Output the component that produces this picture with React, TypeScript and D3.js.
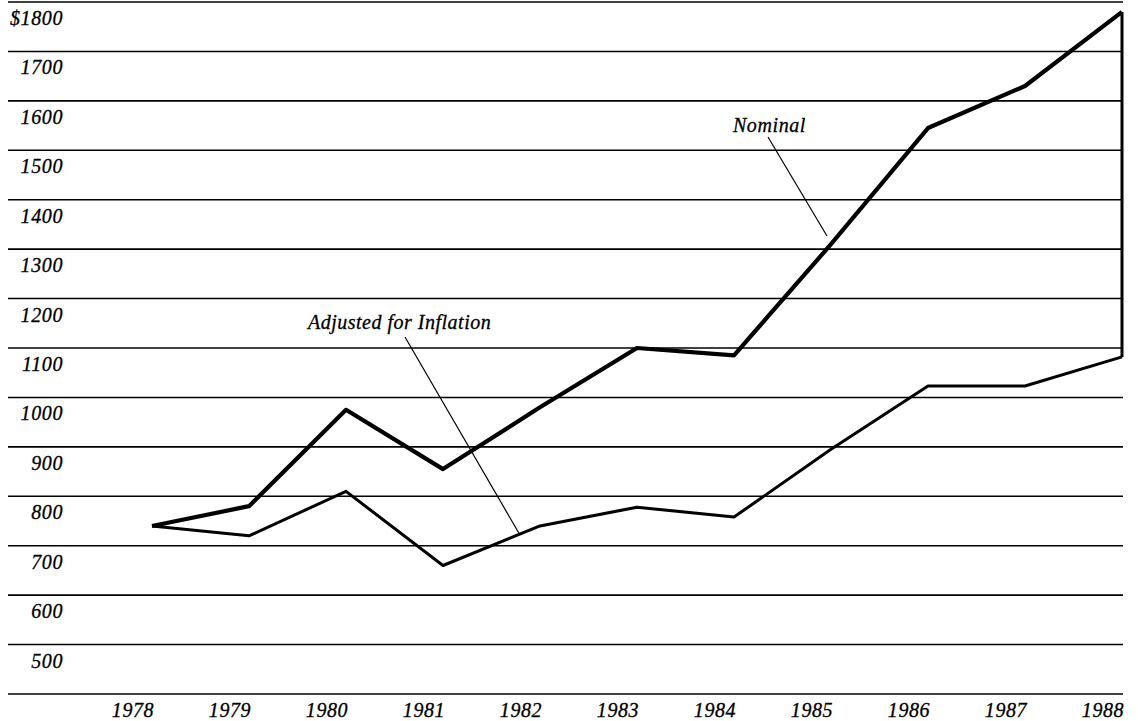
import React from 'react';
import * as d3 from 'd3';

// chart data
const years = [1978, 1979, 1980, 1981, 1982, 1983, 1984, 1985, 1986, 1987, 1988];
const nominal = [740, 780, 975, 855, 980, 1100, 1085, 1310, 1545, 1630, 1780];
const adjusted = [740, 720, 810, 660, 740, 778, 758, 895, 1023, 1023, 1082];
const yTicks = [1800, 1700, 1600, 1500, 1400, 1300, 1200, 1100, 1000, 900, 800, 700, 600, 500, 400];

const W = 1138;
const H = 721;
const FONT = "'Liberation Serif', 'Times New Roman', Times, serif";

const textStyle = {
  fontFamily: FONT,
  fontStyle: 'italic',
  fontSize: 20,
} as const;

const App: React.FC = () => {
  const x = d3.scaleLinear().domain([1978, 1988]).range([152, 1122]);
  const y = d3.scaleLinear().domain([400, 1800]).range([694, 2]);

  const line = d3
    .line<number>()
    .x((_, i) => x(years[i]))
    .y((d) => y(d));

  const last = years.length - 1;

  return (
    <svg
      width={W}
      height={H}
      viewBox={`0 0 ${W} ${H}`}
      style={{ position: 'absolute', left: 0, top: 0, background: '#fff' }}
    >
      {/* horizontal rules */}
      {yTicks.map((t) => (
        <line key={t} x1={8} x2={1123} y1={y(t)} y2={y(t)} stroke="#000" strokeWidth={1.6} />
      ))}

      {/* y labels, hanging below their rule */}
      {yTicks
        .filter((t) => t >= 500)
        .map((t) => (
          <text
            key={t}
            x={63}
            y={y(t) + 23}
            textAnchor="end"
            style={textStyle}
            letterSpacing={0.6}
            stroke="#000"
            strokeWidth={0.3}
          >
            {t === 1800 ? '$1800' : t}
          </text>
        ))}

      {/* x labels */}
      {years.map((yr) => (
        <text
          key={yr}
          x={x(yr) - 19}
          y={717}
          textAnchor="middle"
          style={textStyle}
          letterSpacing={0.6}
          stroke="#000"
          strokeWidth={0.3}
        >
          {yr}
        </text>
      ))}

      {/* series */}
      <path d={line(adjusted) || ''} fill="none" stroke="#000" strokeWidth={3} strokeLinejoin="round" />
      <path d={line(nominal) || ''} fill="none" stroke="#000" strokeWidth={4.2} strokeLinejoin="round" />
      <line
        x1={x(years[last])}
        x2={x(years[last])}
        y1={y(nominal[last])}
        y2={y(adjusted[last])}
        stroke="#000"
        strokeWidth={3}
      />

      {/* annotations */}
      <text x={806} y={132} textAnchor="end" style={textStyle} letterSpacing={0.6} stroke="#000" strokeWidth={0.3}>
        Nominal
      </text>
      <line x1={768} y1={137} x2={827} y2={236} stroke="#000" strokeWidth={1.2} />

      <text x={308} y={329} style={textStyle} letterSpacing={0.5} stroke="#000" strokeWidth={0.3}>
        Adjusted for Inflation
      </text>
      <line x1={405} y1={337} x2={520} y2={535} stroke="#000" strokeWidth={1.2} />
    </svg>
  );
};

export default App;
